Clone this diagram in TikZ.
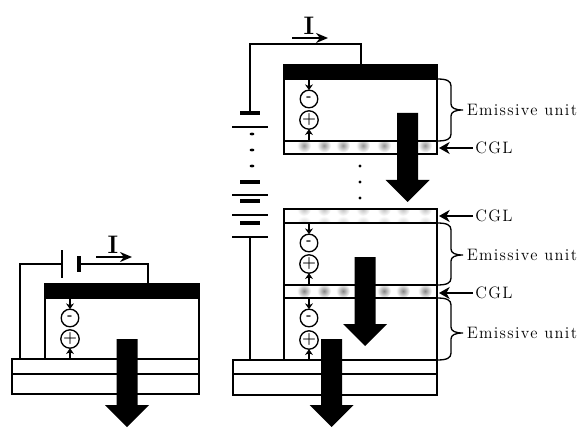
\documentclass[tikz,border=0pt]{standalone}
\usepackage{fontspec}
\newfontfamily\lblfont[LetterSpace=8]{Latin Modern Roman}
\usetikzlibrary{arrows.meta}
\tikzset{
  x=0.75pt,y=-0.75pt,
  wire/.style={line width=1.2pt,black},
  layerbox/.style={line width=1.05pt,black},
  bigarrow/.style={fill=black,draw=none},
  charge/.style={circle,draw=black,line width=1pt,fill=white,minimum size=13.2pt,inner sep=0pt},
  minussign/.style={charge,font=\bfseries\normalsize},
  plussign/.style={charge,font=\bfseries\large},
  tinyarrow/.style={line width=1.9pt,-{Stealth[length=4.4pt,width=6pt]},shorten >=-0.5pt},
  lbl/.style={font=\lblfont\fontsize{12.4}{14}\selectfont,anchor=west,inner sep=0pt},
  curlbl/.style={font=\fontsize{19}{20}\selectfont\bfseries,inner sep=0pt},
  curarrow/.style={line width=1.7pt,-{Stealth[length=9pt,width=7.5pt]}},
  cglarrow/.style={line width=1.9pt,-{Stealth[length=8pt,width=9pt,inset=2.5pt]}},
  thickplate/.style={line width=2.8pt},
  thinplate/.style={line width=1.05pt},
  bracepath/.style={line width=1pt},
}
% big downward arrow: centre x, top y, shoulder y, tip y
\newcommand\bigdown[4]{\fill[bigarrow] (#1-10.5,#2) -- (#1+10.5,#2) -- (#1+10.5,#3) -- (#1+22,#3) -- (#1,#4) -- (#1-22,#3) -- (#1-10.5,#3) -- cycle;}
% electron/hole pair: prefix, x, top electrode y, circle y's, bottom electrode y
\newcommand\chargepair[6]{%
  \coordinate (#1t) at (#2,#3);
  \coordinate (#1b) at (#2,#6);
  \node[minussign] (#1m) at (#2,#4) {-};
  \node[plussign] (#1p) at (#2,#5) {+};
  \draw[tinyarrow] (#1t) -- (#1m);
  \draw[tinyarrow] (#1b) -- (#1p);
}
% side brace and its label
\newcommand\unitbrace[5]{%
  \coordinate (#1s) at (437,#2);
  \coordinate (#1e) at (437,#4);
  \coordinate (#1c) at (463,#3);
  \draw[bracepath] (#1s) .. controls (447,#2) and (451,#2+2) .. (451,#2+7) -- (451,#3-6)
    .. controls (451,#3-2) and (455,#3) .. (#1c)
    .. controls (455,#3) and (451,#3+2) .. (451,#3+6) -- (451,#4-7)
    .. controls (451,#4-2) and (447,#4) .. (#1e);
  \node[lbl] (#1l) at (466.5,#5) {Emissive unit};
}
\newcommand\cgllabel[2]{%
  \node[lbl] (#1l) at (475,#2) {CGL};
  \coordinate (#1tip) at (439,#2);
  \draw[cglarrow] (#1l.west) ++(-2,0) -- (#1tip);
}
% seven blurred dots in a CGL strip
\newcommand\cgldots[4]{%
  \begin{scope}
    \clip (284,#1) rectangle (437,#2);
    \foreach \dx in {304,324,343,363,384,403,425}
      \shade[inner color=#4,outer color=white] (\dx,#3) circle[radius=7];
  \end{scope}
}
\begin{document}
\begin{tikzpicture}
\useasboundingbox (0,0) rectangle (580,427);
\fill[white] (0,0) rectangle (580,427);

%% LEFT DEVICE
\draw[layerbox] (12,359) rectangle (199,374);
\draw[layerbox] (12,374) rectangle (199,394);
\draw[layerbox] (45,284) rectangle (199,359);
\fill[black] (45,284) rectangle (199,299);
\coordinate (lca) at (148,284);
\coordinate (lan) at (20,359);
\coordinate (lp1) at (62,264);
\coordinate (lp2) at (79,264);
\draw[wire] (lan) |- (lp1);
\draw[wire] (lp2) -| (lca);
\draw[thinplate] (62,250) -- (62,278);
\draw[thickplate] (79,256) -- (79,272);
\node[curlbl] (li) at (113,245) {I};
\coordinate (lia) at (96,257);
\coordinate (lib) at (132,257);
\draw[curarrow] (lia) -- (lib);
\chargepair{la}{70}{299}{318}{339}{359}
\bigdown{127}{339}{405}{427}

%% RIGHT DEVICE
\cgldots{141}{154}{145.5}{black!42}
\cgldots{209}{223}{209}{black!25}
\cgldots{209}{223}{223}{black!18}
\cgldots{285}{298}{291}{black!48}
\draw[layerbox] (284,65) rectangle (437,154);
\draw[layerbox] (284,141) -- (437,141);
\draw[layerbox] (233,360) rectangle (437,374);
\draw[layerbox] (233,374) rectangle (437,395);
\draw[layerbox] (284,209) rectangle (437,360);
\draw[layerbox] (284,223) -- (437,223);
\draw[layerbox] (284,285) -- (437,285);
\draw[layerbox] (284,298) -- (437,298);
\fill[black] (284,65) rectangle (437,80);

% battery stack
\coordinate (rca) at (361,65);
\coordinate (rtop) at (250,113);
\coordinate (rbot) at (250,237);
\coordinate (ran) at (250,360);
\draw[wire] (rtop) |- (250,44) -| (rca);
\draw[wire] (rbot) -- (ran);
\draw[thickplate] (240,113) -- (260,113);
\draw[thinplate] (232,127) -- (268,127);
\draw[thickplate] (240,182) -- (260,182);
\draw[thinplate] (232,195) -- (268,195);
\draw[thickplate] (240,201) -- (260,201);
\draw[thinplate] (232,215) -- (268,215);
\draw[thickplate] (240,223) -- (260,223);
\draw[thinplate] (232,237) -- (268,237);
\foreach \yy in {134,150,166} \fill (252,\yy) ellipse[x radius=2.4,y radius=1.4];
\foreach \yy in {166,182,198} \fill (360,\yy) circle[radius=1.6];

\node[curlbl] (ri) at (309,26) {I};
\coordinate (ria) at (292,38);
\coordinate (rib) at (328,38);
\draw[curarrow] (ria) -- (rib);

\chargepair{ra}{309}{80}{99}{120}{141}
\chargepair{rb}{309}{223}{243}{264}{285}
\chargepair{rc}{309}{298}{318}{340}{360}

\bigdown{407.5}{113}{180}{202}
\bigdown{365}{257}{324}{346}
\bigdown{331.5}{339}{405}{427}

\unitbrace{ua}{79}{110}{141}{110}
\unitbrace{ub}{223}{255}{285}{255}
\unitbrace{uc}{298}{333}{360}{333}
\cgllabel{ca}{148}
\cgllabel{cb}{216}
\cgllabel{cc}{293}
\end{tikzpicture}
\end{document}
